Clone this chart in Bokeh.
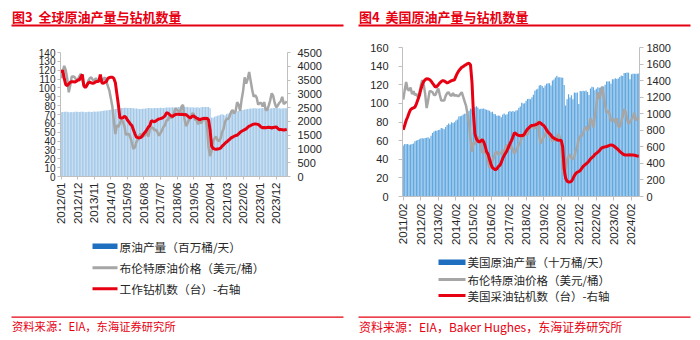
from bokeh.plotting import figure
from bokeh.models import Range1d, LinearAxis, FixedTicker, ColumnDataSource
from bokeh.layouts import row, column
from bokeh.embed import file_html
from bokeh.resources import INLINE
from bokeh.core.properties import value

CJK = "Noto Sans CJK SC"
LAT = "Liberation Sans"
RED = "#E60012"
GRAY = "#A6A6A6"
AXIS = "#BFBFBF"
TXT = "#262626"

# ---------------- data ----------------
# 图3: global, monthly 2012/01 - 2024/07
g_prod = [
    72.5, 72.8, 73.0, 73.2, 73.0, 72.6, 72.4, 72.8, 72.5, 73.0, 73.2, 73.0,
    72.8, 73.0, 73.2, 73.0, 72.6, 72.8, 73.2, 73.0, 72.9, 73.1, 73.4, 73.2,
    73.3, 73.5, 73.8, 74.0, 74.2, 74.5, 74.6, 74.9, 75.2, 75.5, 75.8, 76.0,
    76.3, 76.5, 76.8, 77.0, 77.2, 77.4, 77.6, 77.5, 77.2, 77.3, 77.4, 77.2,
    77.0, 76.8, 76.9, 76.5, 76.2, 76.3, 76.6, 76.4, 76.8, 77.0, 77.4, 77.3,
    77.0, 77.1, 77.2, 77.2, 77.3, 77.4, 77.5, 77.4, 77.3, 77.6, 77.8, 77.9,
    77.8, 78.0, 78.1, 78.0, 78.2, 78.3, 78.4, 78.5, 78.6, 78.7, 78.8, 78.6,
    78.4, 78.2, 78.0, 78.1, 78.0, 77.8, 78.0, 78.1, 77.4, 78.3, 78.5, 78.6,
    78.5, 78.4, 78.6, 77.0, 66.5, 66.2, 67.5, 68.0, 68.5, 69.2, 69.8, 70.2,
    69.8, 69.0, 70.6, 71.0, 71.6, 72.0, 72.6, 72.5, 73.0, 73.6, 74.0, 74.4,
    74.8, 75.2, 75.6, 76.0, 76.3, 76.5, 76.8, 76.9, 77.1, 77.0, 76.9, 76.8,
    77.0, 77.1, 77.2, 77.0, 76.8, 76.6, 76.5, 76.8, 77.0, 77.2, 77.3, 77.4,
    77.1, 77.0, 76.9, 76.8, 77.0, 77.1, 77.0,
]
g_rigs = [
    3760, 3860, 3550, 3330, 3300, 3360, 3420, 3440, 3440, 3430, 3450, 3500,
    3500, 3600, 3700, 3300, 3220, 3300, 3400, 3420, 3400, 3380, 3400, 3440,
    3450, 3460, 3700, 3400, 3380, 3420, 3440, 3560, 3590, 3600, 3600, 3560,
    3400, 3000, 2600, 2130, 2120, 2130, 2180, 2150, 2050, 1980, 1900, 1850,
    1700, 1550, 1430, 1410, 1400, 1420, 1480, 1560, 1620, 1700, 1800, 1850,
    2030, 2000, 1990, 2020, 2060, 2090, 2100, 2120, 2150, 2200, 2310, 2300,
    2250, 2200, 2180, 2220, 2250, 2260, 2260, 2250, 2260, 2250, 2240, 2250,
    2200, 2150, 2130, 2180, 2200, 2160, 2120, 2100, 2050, 2080, 2100, 2110,
    2100, 2120, 2050, 1700, 1100, 1020, 1000, 990, 1000, 1010, 1030, 1100,
    1150, 1210, 1250, 1300, 1350, 1400, 1430, 1460, 1488, 1500, 1550, 1600,
    1640, 1670, 1700, 1730, 1780, 1825, 1850, 1880, 1900, 1910, 1900, 1890,
    1850, 1790, 1770, 1780, 1770, 1780, 1790, 1780, 1760, 1780, 1790, 1800,
    1750, 1700, 1710, 1700, 1690, 1700, 1710,
]
g_tick_labels = ["2012/01", "2012/12", "2013/11", "2014/10", "2015/09", "2016/08",
                 "2017/07", "2018/06", "2019/05", "2020/04", "2021/03", "2022/02",
                 "2023/01", "2023/12"]

# Brent, monthly 2011/02 - 2024/07 (USD/bbl)
brent = [
    104, 114, 123, 115, 114, 117, 110, 113, 109, 110, 107,
    111, 119, 125, 120, 110, 95, 103, 113, 113, 112, 109, 109,
    113, 116, 109, 103, 103, 103, 108, 111, 112, 109, 108, 111,
    108, 109, 108, 108, 110, 112, 107, 102, 97, 88, 79, 62,
    48, 58, 56, 60, 64, 62, 57, 47, 48, 48, 44, 38,
    31, 33, 39, 42, 47, 48, 45, 46, 47, 50, 45, 54,
    55, 55, 52, 53, 50, 46, 49, 52, 56, 58, 63, 64,
    69, 66, 67, 72, 77, 75, 74, 73, 79, 81, 65, 57,
    60, 64, 66, 71, 71, 64, 64, 59, 63, 60, 63, 67,
    64, 55, 33, 23, 29, 40, 43, 45, 41, 40, 43, 50,
    54, 62, 65, 65, 68, 73, 75, 71, 74, 84, 81, 74,
    87, 97, 112, 105, 110, 118, 108, 98, 90, 92, 89, 81,
    83, 83, 79, 84, 75, 75, 80, 86, 94, 91, 83, 78,
    80, 83, 85, 90, 82, 83, 85,
]

# 图4: US, monthly 2011/02 - 2024/07
us_prod = [
    54.7, 56.5, 56.2, 56.4, 55.5, 55.9, 56.5, 56.8, 59.2, 60.2, 60.8,
    61.4, 62.4, 62.5, 62.4, 62.9, 63.0, 63.7, 62.3, 65.2, 68.3, 69.8, 70.5,
    70.5, 71.4, 71.7, 73.6, 73.0, 72.3, 74.7, 76.7, 78.3, 77.4, 79.8, 78.9,
    79.6, 81.5, 82.7, 86.0, 86.1, 86.8, 88.0, 88.9, 89.2, 91.2, 92.2, 94.4,
    93.5, 94.3, 95.8, 96.9, 95.5, 93.6, 94.3, 94.1, 94.6, 93.7, 93.2, 92.6,
    92.1, 90.6, 90.9, 88.6, 88.3, 86.6, 86.9, 86.8, 85.2, 88.0, 89.0, 87.9,
    88.4, 91.1, 91.7, 91.0, 91.8, 91.1, 92.4, 92.5, 95.1, 96.6, 100.7, 99.9,
    100.2, 102.7, 104.7, 105.0, 104.4, 106.7, 109.2, 113.5, 114.8, 115.6, 119.3, 119.7,
    118.6, 116.7, 119.1, 121.2, 121.6, 121.7, 119.1, 124.6, 125.6, 127.7, 129.7, 128.1,
    128.1, 127.9, 127.6, 119.6, 97.6, 104.5, 109.9, 106.2, 108.7, 104.3, 111.7, 111.3,
    111.6, 99.2, 113.4, 113.0, 113.6, 112.9, 113.7, 112.1, 108.9, 116.1, 117.8, 117.2,
    114.2, 115.7, 117.2, 116.7, 117.1, 118.0, 118.1, 119.9, 123.4, 123.5, 123.7, 121.1,
    126.0, 125.8, 127.1, 126.2, 126.6, 128.3, 129.8, 129.5, 132.6, 132.5, 133.1, 133.0,
    125.8, 131.3, 131.8, 131.8, 131.8, 131.9, 132.1,
]
us_rigs = [
    806, 860, 918, 960, 1010, 1050, 1063, 1070, 1079, 1120, 1170,
    1220, 1290, 1350, 1390, 1410, 1422, 1420, 1413, 1395, 1369, 1345, 1320,
    1330, 1350, 1372, 1390, 1400, 1395, 1385, 1372, 1380, 1390, 1400, 1405,
    1410, 1450, 1490, 1520, 1540, 1560, 1570, 1585, 1594, 1605, 1610, 1590,
    1380, 1000, 757, 697, 670, 656, 670, 686, 660, 610, 540, 512,
    450, 387, 350, 334, 322, 335, 360, 375, 410, 460, 495, 525,
    555, 600, 640, 675, 720, 770, 760, 745, 737, 735, 737, 737,
    760, 790, 817, 830, 850, 858, 860, 865, 870, 880, 897, 885,
    870, 858, 835, 805, 777, 760, 740, 716, 705, 695, 685, 680,
    678, 680, 600, 340, 220, 185, 175, 175, 185, 215, 253, 280,
    295, 300, 314, 340, 365, 380, 394, 410, 430, 455, 470, 485,
    510, 520, 535, 550, 575, 590, 595, 600, 604, 610, 618, 623,
    620, 610, 595, 580, 565, 545, 530, 515, 505, 500, 500, 502,
    505, 500, 500, 498, 495, 488, 485,
]
us_tick_labels = ["2011/02", "2012/02", "2013/02", "2014/02", "2015/02", "2016/02",
                  "2017/02", "2018/02", "2019/02", "2020/02", "2021/02", "2022/02",
                  "2023/02", "2024/02"]

titles = ["图3\u00a0\u00a0全球原油产量与钻机数量", "图4\u00a0\u00a0美国原油产量与钻机数量"]
g_legend = ["原油产量（百万桶/天）", "布伦特原油价格（美元/桶）", "工作钻机数（台）-右轴"]
us_legend = ["美国原油产量（十万桶/天）", "布伦特原油价格（美元/桶）", "美国采油钻机数（台）-右轴"]
sources = ["资料来源：EIA，东海证券研究所", "资料来源：EIA，Baker Hughes，东海证券研究所"]


def month_list(y, m, n):
    out = []
    for _ in range(n):
        out.append(f"{y}/{m:02d}")
        m += 1
        if m > 12:
            m = 1
            y += 1
    return out


def canvas(w, h):
    c = figure(width=w, height=h, x_range=Range1d(0, w), y_range=Range1d(h, 0),
               output_backend="svg", toolbar_location=None, min_border=0,
               x_axis_location=None, y_axis_location=None, frame_align=False)
    c.grid.visible = False
    c.outline_line_color = None
    c.background_fill_color = "white"
    c.border_fill_color = "white"
    return c


def style_axis(ax, size, tick_out, standoff):
    ax.axis_line_color = AXIS
    ax.major_tick_line_color = AXIS
    ax.minor_tick_line_color = None
    ax.major_tick_out = tick_out
    ax.major_tick_in = 0
    ax.major_label_standoff = standoff
    ax.major_label_text_font = LAT
    ax.major_label_text_font_size = size
    ax.major_label_text_color = TXT


def chart(months, prod, price, rigs, tick_labels, height, borders, yl, yl_step,
          yr, yr_step, bar_color, lfont, lstand, ltick, rstand, rtick, xstand, xtick):
    n = len(months)
    src = ColumnDataSource(dict(x=list(range(n)), month=months, prod=prod,
                                price=price, rigs=rigs))
    bl, br, bt, bb = borders
    p = figure(width=350, height=height, x_range=Range1d(-0.5, n - 0.5),
               y_range=Range1d(0, yl), output_backend="svg", toolbar_location=None,
               min_border_left=bl, min_border_right=br, min_border_top=bt,
               min_border_bottom=bb, frame_align=False)
    p.extra_y_ranges = {"r": Range1d(0, yr)}
    p.grid.visible = False
    p.outline_line_color = None
    p.background_fill_color = "white"
    p.border_fill_color = "white"

    p.vbar(x="x", top="prod", width=0.82, source=src, fill_color=bar_color,
           line_color=None)
    p.line(x="x", y="price", source=src, line_color=GRAY, line_width=2.5)
    p.line(x="x", y="rigs", source=src, y_range_name="r", line_color=RED,
           line_width=3)

    xa = p.xaxis[0]
    xa.ticker = FixedTicker(ticks=[months.index(t) for t in tick_labels])
    xa.major_label_overrides = {months.index(t): t for t in tick_labels}
    xa.major_label_orientation = 3.14159265 / 2
    style_axis(xa, "11.5px", xtick, xstand)

    ya = p.yaxis[0]
    ya.ticker = FixedTicker(ticks=list(range(0, yl + 1, yl_step)))
    style_axis(ya, lfont, ltick, lstand)

    ra = LinearAxis(y_range_name="r",
                    ticker=FixedTicker(ticks=list(range(0, yr + 1, yr_step))))
    style_axis(ra, "11px", rtick, rstand)
    p.add_layout(ra, "right")
    return p


def header(text, x0):
    c = canvas(350, 30)
    c.text(x=[x0 + 0.5], y=[16], text=[text], text_font=value(CJK),
           text_font_size="13px", text_font_style="bold", text_color=RED,
           text_baseline="middle", text_align="left")
    c.segment(x0=[x0], y0=[25], x1=[x0 + 332], y1=[25], line_color=RED, line_width=2)
    return c


def bottom(h, labels, sx0, sx1, ys, fsize, line_y, src_text, x0, src_size):
    c = canvas(350, h)
    c.rect(x=[(sx0 + sx1) / 2], y=[ys[0]], width=sx1 - sx0, height=5.5,
           fill_color="#1F6FC0", line_color=None)
    c.segment(x0=[sx0], y0=[ys[1]], x1=[sx1], y1=[ys[1]], line_color=GRAY, line_width=3)
    c.segment(x0=[sx0], y0=[ys[2]], x1=[sx1], y1=[ys[2]], line_color=RED, line_width=3)
    c.text(x=[sx1 + 2] * 3, y=ys, text=labels, text_font=value(CJK),
           text_font_size=fsize, text_color=TXT, text_baseline="middle",
           text_align="left")
    c.segment(x0=[x0], y0=[line_y], x1=[x0 + 332], y1=[line_y], line_color=RED,
              line_width=1.3)
    c.text(x=[x0 + 0.5], y=[line_y + 9], text=[src_text], text_font=value(CJK),
           text_font_size=src_size, text_color=RED, text_baseline="middle",
           text_align="left")
    return c


g_months = month_list(2012, 1, len(g_prod))
us_months = month_list(2011, 2, len(us_prod))

left_chart = chart(g_months, g_prod, brent[11:], g_rigs, g_tick_labels, 206,
                   (60, 63, 22, 60), 140, 10, 4500, 500, "#A3C8E8", "10px",
                   2, 3, 7, 3, 3, 3)
right_chart = chart(us_months, us_prod, brent, us_rigs, us_tick_labels, 220,
                    (52, 61, 17, 54), 160, 20, 1800, 200, "#62A8E0", "11px",
                    10, 4, 3, 4, 3, 4)

left_col = column(header(titles[0], 11), left_chart,
                  bottom(104, g_legend, 92, 117, [9.7, 31.3, 52.3], "11.7px", 80.7,
                         sources[0], 11, "11.3px"),
                  spacing=0)
right_col = column(header(titles[1], 8), right_chart,
                   bottom(90, us_legend, 88, 115, [11.7, 29, 45], "11.5px", 66.7,
                          sources[1], 8, "12px"),
                   spacing=0)
page = row(left_col, right_col, spacing=0)

open("out.html", "w").write(file_html(page, INLINE))
